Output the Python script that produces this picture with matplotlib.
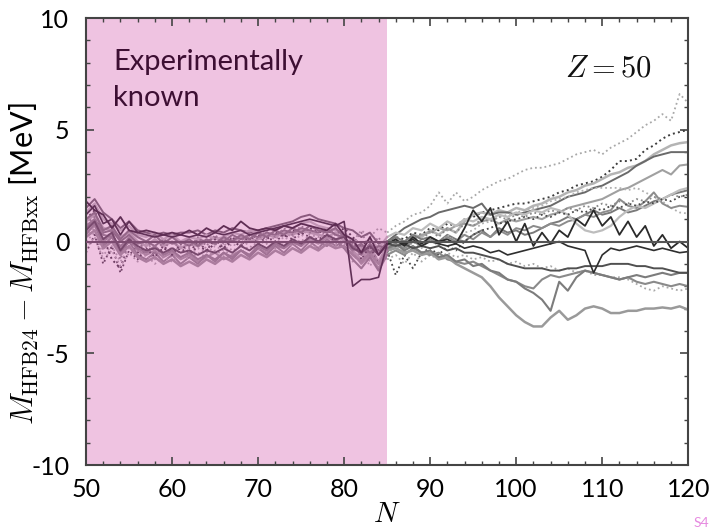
import numpy as np
import matplotlib
matplotlib.use("Agg")
import matplotlib.pyplot as plt
from matplotlib.ticker import MultipleLocator
from matplotlib.colors import to_rgb

plt.rcParams['font.family'] = ['Lato', 'DejaVu Sans']
plt.rcParams['mathtext.fontset'] = 'cm'

N = list(range(50, 121))
N_KNOWN_MAX = 85

# Each series: values for N = 50..120
sA = [1.2, 1.6, 0.8, 1.0, 0.3, 0.9, 0.4, 0.3, 0.2, 0.3,
      0.2, 0.3, 0.2, 0.3, 0.2, 0.4, 0.3, 0.4, 0.5, 0.3,
      0.4, 0.5, 0.6, 0.7, 0.8, 0.9, 1.0, 0.9, 0.8, 0.7,
      0.9, -2.0, -1.7, -1.7, -1.6, -0.1, 0.0, -0.1, 0.1, -0.2,
      0.0, -0.1, -0.2, -0.1, -0.3, -0.2, -0.3, -0.5, -0.4, -0.6,
      -0.5, -0.4, -0.3, -0.2, -0.1, 0.0, -0.2, -0.3, -0.4, -1.4,
      -0.6, -0.3, -0.4, -0.3, -0.2, -0.3, -0.4, -0.3, -0.4, -0.5,
      -0.45]
sB = [1.8, 1.4, 1.2, 0.6, 1.1, 0.5, 0.4, 0.5, 0.4, 0.3,
      0.4, 0.3, 0.5, 0.3, 0.6, 0.4, 0.7, 0.5, 0.9, 0.6,
      0.5, 0.6, 0.5, 0.7, 0.6, 0.8, 0.7, 0.6, 0.5, 0.8,
      0.3, 0.1, -0.5, 0.2, -0.6, -0.1, 0.1, -0.2, 0.2, -0.1,
      0.2, 0.0, 0.1, -0.1, 0.6, 1.4, 0.9, 1.5, 0.3, 0.9,
      0.0, 0.8, -0.2, 0.4, -0.1, 0.5, 0.2, 1.0, 0.7, 1.4,
      0.7, 1.1, 0.3, 0.9, 0.2, 0.7, -0.2, 0.3, -0.3, 0.0,
      -0.3]
sC = [1.5, 1.9, 1.3, 1.0, 0.6, 0.9, 0.5, 0.4, 0.3, 0.4,
      0.3, 0.4, 0.4, 0.5, 0.3, 0.5, 0.4, 0.6, 0.5, 0.4,
      0.5, 0.6, 0.7, 0.8, 0.9, 1.1, 1.2, 1.0, 0.9, 0.8,
      0.6, 0.5, 0.2, 0.4, -0.1, 0.0, 0.3, 0.6, 0.8, 1.0,
      1.1, 1.3, 1.4, 1.5, 1.6, 1.5, 1.7, 1.2, 1.3, 1.3,
      1.2, 1.3, 1.4, 1.5, 1.6, 1.8, 2.0, 2.1, 2.2, 2.4,
      2.5, 2.7, 2.9, 3.1, 3.4, 3.6, 3.8, 3.9, 4.0, 4.0,
      4.0]
sD = [0.9, 1.2, 0.6, 0.5, 0.2, 0.4, 0.0, -0.2, 0.1, -0.2,
      0.0, -0.3, -0.1, -0.2, 0.0, -0.1, 0.1, 0.0, 0.2, 0.0,
      0.1, 0.3, 0.2, 0.4, 0.3, 0.5, 0.4, 0.3, 0.2, 0.4,
      0.0, -0.4, -0.8, -0.3, -0.9, -0.2, 0.1, -0.1, 0.3, 0.2,
      0.5, 0.3, 0.6, 0.4, 0.9, 1.2, 1.3, 1.2, 1.4, 1.3,
      1.5, 1.4, 1.6, 1.7, 1.9, 2.0, 2.2, 2.3, 2.5, 2.6,
      2.8, 3.0, 3.1, 3.3, 3.4, 3.6, 3.9, 4.1, 4.3, 4.4,
      4.45]
sE = [0.2, 0.6, -0.4, 0.3, -0.6, 0.1, -0.3, -0.1, -0.4, -0.2,
      -0.5, -0.2, -0.4, -0.1, -0.3, 0.0, -0.2, 0.1, -0.1, 0.2,
      0.0, 0.3, 0.1, 0.4, 0.2, 0.5, 0.3, 0.2, 0.4, 0.1,
      0.3, 0.0, 0.5, 0.2, 0.6, 0.4, 0.7, 0.9, 1.2, 1.3,
      1.6, 2.2, 1.7, 2.2, 1.8, 2.0, 2.3, 2.5, 2.7, 2.8,
      3.0, 3.2, 3.3, 3.3, 3.4, 3.5, 3.7, 3.9, 4.0, 4.1,
      3.9, 4.2, 4.4, 4.6, 4.9, 5.2, 5.4, 5.7, 5.4, 6.6,
      6.2]
sF = [1.0, 1.4, 0.2, -0.8, -1.2, 0.0, -0.5, -0.2, -0.6, -0.3,
      -0.5, -0.3, -0.6, -0.2, -0.4, -0.1, -0.3, 0.0, -0.2, 0.1,
      0.3, 0.1, 0.4, 0.2, 0.5, 0.3, 0.6, 0.4, 0.5, 0.3,
      0.6, 0.2, -0.2, 0.1, -0.4, 0.0, 0.2, 0.1, 0.4, 0.3,
      0.6, 0.5, 0.8, 0.7, 1.0, 1.1, 1.3, 1.4, 1.5, 1.6,
      1.7, 1.7, 1.8, 1.9, 2.0, 2.2, 2.3, 2.5, 2.6, 2.7,
      2.9, 3.2, 3.6, 3.6, 3.7, 4.1, 4.3, 4.6, 4.8, 4.9,
      5.0]
sG = [0.4, 0.7, 0.0, 0.3, -0.3, 0.2, -0.4, -0.6, -0.4, -0.7,
      -0.5, -0.8, -0.6, -0.9, -0.7, -0.5, -0.8, -0.6, -0.4, -0.6,
      -0.3, -0.5, -0.2, -0.3, 0.0, -0.2, 0.1, -0.1, 0.2, 0.0,
      0.3, -0.5, -1.0, -0.6, -1.2, -0.4, -0.2, 0.0, 0.1, 0.3,
      0.4, 0.6, 0.5, 0.7, 0.8, 0.7, 0.9, 1.0, 0.8, 1.0,
      0.9, 1.0, 1.1, 1.0, 1.2, 1.3, 1.5, 1.6, 1.7, 1.8,
      1.9, 2.1, 2.3, 2.4, 2.6, 2.8, 3.0, 3.2, 3.0, 3.4,
      3.45]
sH = [0.6, 1.0, 0.4, 0.5, 0.0, 0.3, -0.1, 0.0, -0.2, 0.1,
      -0.1, 0.0, -0.2, 0.1, 0.0, 0.2, 0.0, 0.3, 0.1, 0.3,
      0.2, 0.4, 0.3, 0.5, 0.4, 0.6, 0.5, 0.4, 0.6, 0.3,
      0.2, -0.2, -0.6, -0.1, -0.5, 0.0, 0.2, 0.0, 0.3, 0.1,
      0.2, 0.0, 0.3, 0.1, 0.0, 0.3, 0.5, 0.2, 0.6, 0.4,
      0.5, 0.3, 0.4, 0.6, 0.8, 0.9, 1.1, 1.0, 1.2, 1.4,
      1.2, 1.3, 1.5, 1.3, 1.4, 1.6, 1.8, 1.9, 2.1, 2.2,
      2.3]
sI = [0.0, 0.4, -0.6, -0.2, -0.9, -0.3, -0.6, -0.4, -0.8, -0.5,
      -0.7, -0.4, -0.6, -0.3, -0.5, -0.2, -0.4, -0.1, -0.3, 0.0,
      -0.2, 0.1, -0.1, 0.2, 0.0, 0.3, 0.1, 0.0, 0.2, -0.1,
      0.1, -0.6, -0.3, -0.9, -0.4, -0.6, -0.2, -0.5, 0.0, -0.3,
      0.1, -0.2, 0.3, 0.0, 0.4, 0.5, 0.8, 0.9, 1.1, 1.2,
      1.3, 1.4, 1.5, 1.6, 1.8, 1.9, 2.0, 2.2, 2.3, 2.4,
      2.4, 2.4, 2.4, 2.3, 2.4, 2.2, 2.0, 1.8, 1.5, 1.3,
      1.25]
sJ = [0.8, 1.1, -0.2, 0.6, -0.8, 0.2, -0.4, 0.1, -0.5, 0.0,
      -0.4, 0.1, -0.3, 0.2, -0.2, 0.3, -0.1, 0.2, 0.0, 0.4,
      0.1, 0.5, 0.2, 0.6, 0.3, 0.7, 0.4, 0.5, 0.3, 0.6,
      0.2, -0.1, 0.4, -0.3, 0.2, -0.5, 0.0, -0.4, 0.3, 0.0,
      0.5, 0.2, 0.6, 0.4, 0.8, 0.7, 1.0, 0.9, 1.1, 1.0,
      1.2, 1.1, 1.3, 1.2, 1.4, 1.3, 1.5, 1.4, 1.6, 1.5,
      1.7, 1.6, 1.8, 1.7, 1.9, 1.8, 2.0, 1.9, 2.1, 2.0,
      2.1]
sK = [0.3, 0.8, -0.2, 0.2, -0.5, 0.0, -0.6, -0.8, -0.5, -0.9,
      -0.6, -1.0, -0.7, -1.0, -0.6, -0.9, -0.5, -0.8, -0.4, -0.7,
      -0.3, -0.6, -0.2, -0.5, -0.1, -0.4, 0.0, -0.3, 0.1, -0.2,
      0.0, -0.4, -0.2, -0.6, -0.3, -0.4, -0.1, -0.3, 0.0, -0.2,
      0.1, -0.1, 0.2, 0.0, 0.3, 0.1, 0.4, 0.2, 0.5, 0.3,
      0.6, 0.5, 0.7, 0.6, 0.8, 0.7, 0.9, 1.0, 1.2, 1.1,
      1.3, 1.4, 1.9, 1.6, 1.5, 1.8, 2.2, 1.7, 1.5, 1.6,
      1.55]
sL = [0.5, 0.9, 0.1, 0.4, -0.4, 0.1, -0.2, -0.4, -0.3, -0.5,
      -0.3, -0.5, -0.4, -0.6, -0.4, -0.5, -0.3, -0.5, -0.2, -0.4,
      -0.1, -0.3, 0.0, -0.2, 0.1, -0.1, 0.2, 0.0, 0.3, 0.1,
      0.2, -0.3, -0.5, -0.2, -0.6, -0.1, -0.2, -0.1, -0.3, -0.2,
      -0.3, -0.2, -0.4, -0.3, -0.5, -0.5, -0.6, -0.7, -0.8, -1.0,
      -1.1, -1.2, -1.2, -1.2, -1.3, -1.3, -1.2, -1.2, -1.1, -1.1,
      -1.1, -1.0, -1.0, -1.0, -1.1, -1.1, -1.2, -1.2, -1.3, -1.4,
      -1.4]
sM = [1.0, 1.3, 0.5, 0.7, 0.1, 0.5, 0.2, 0.0, 0.3, -0.1,
      0.2, -0.1, 0.1, -0.2, 0.1, -0.1, 0.2, 0.0, 0.3, 0.1,
      0.4, 0.2, 0.5, 0.3, 0.6, 0.4, 0.7, 0.5, 0.4, 0.6,
      0.2, -0.3, -0.1, -0.5, -0.2, -0.3, -0.1, -0.4, -0.2, -0.5,
      -0.4, -0.7, -0.6, -0.9, -0.8, -1.1, -1.0, -1.3, -1.4, -1.7,
      -1.8, -2.1, -2.3, -2.6, -3.1, -1.8, -2.2, -1.6, -1.3, -1.4,
      -1.5, -1.6, -1.7, -1.6, -1.5, -1.6, -1.5, -1.4, -1.5, -1.4,
      -1.4]
sN = [0.2, 0.5, -0.3, 0.0, -0.6, -0.2, -0.7, -0.9, -0.7, -1.0,
      -0.8, -1.1, -0.9, -1.1, -0.8, -1.0, -0.7, -0.9, -0.6, -0.8,
      -0.5, -0.7, -0.4, -0.6, -0.3, -0.5, -0.2, -0.4, -0.1, -0.3,
      -0.2, -0.6, -0.9, -0.5, -1.0, -0.4, -0.3, -0.5, -0.4, -0.6,
      -0.5, -0.8, -0.7, -1.0, -1.2, -1.4, -1.6, -2.0, -2.5, -2.9,
      -3.3, -3.6, -3.8, -3.8, -3.4, -3.1, -3.5, -3.3, -3.0, -2.9,
      -3.0, -3.2, -3.2, -3.1, -3.1, -3.0, -3.0, -2.95, -3.0, -2.9,
      -3.05]
sO = [-0.3, 0.2, -0.8, -0.4, -1.1, -0.5, -0.9, -0.6, -1.0, -0.7,
      -0.9, -0.6, -0.8, -0.5, -0.7, -0.4, -0.6, -0.3, -0.5, -0.2,
      -0.4, -0.1, -0.3, 0.0, -0.2, 0.1, -0.1, -0.3, 0.0, -0.2,
      -0.1, -0.9, -0.4, -1.1, -0.5, -0.8, -0.6, -1.0, -0.5, -0.9,
      -0.6, -0.8, -0.5, -0.7, -0.6, -0.8, -0.7, -0.9, -0.8, -1.0,
      -0.9, -1.1, -1.0, -1.2, -1.1, -1.3, -1.2, -1.4, -1.3, -1.5,
      -1.5, -1.6, -1.6, -1.7, -1.9, -2.1, -2.2, -2.0, -2.1, -2.2,
      -2.1]
sP = [0.7, 1.0, 0.3, 0.2, -0.2, 0.1, -0.3, -0.5, -0.2, -0.6,
      -0.4, -0.7, -0.5, -0.8, -0.6, -0.8, -0.5, -0.7, -0.4, -0.6,
      -0.2, -0.4, -0.1, -0.3, 0.0, -0.2, 0.2, 0.0, -0.2, 0.1,
      -0.3, -0.8, -1.2, -0.7, -1.3, -0.6, -0.4, -0.6, -0.3, -0.5,
      -0.6, -0.5, -0.8, -0.9, -1.0, -0.9, -1.1, -1.3, -1.5, -1.7,
      -1.8, -2.0, -2.1, -1.7, -1.5, -1.6, -1.5, -1.4, -1.3, -1.4,
      -1.5, -1.6, -1.7, -1.6, -1.8, -1.9, -1.8, -1.9, -2.0, -1.9,
      -2.0]
sQ = [-0.5, 0.3, -1.0, -0.2, -1.4, -0.4, -0.8, -0.3, -0.7, -0.2,
      -0.6, -0.1, -0.5, 0.0, -0.4, 0.1, -0.3, 0.2, -0.2, 0.3,
      -0.1, 0.2, 0.0, 0.3, 0.1, 0.4, 0.2, 0.1, 0.3, 0.0,
      -0.3, 0.1, -0.8, -0.2, -1.0, -0.4, -1.5, -0.6, -1.2, -0.5,
      -0.3, -0.6, -0.2, -0.4, 0.0, 0.3, 0.5, 0.6, 0.8, 0.9,
      1.0, 1.1, 1.0, 1.2, 1.1, 1.3, 1.2, 1.4, 1.3, 1.5,
      1.4, 1.6, 1.5, 1.7, 1.6, 1.8, 1.7, 1.9, 1.8, 2.0,
      2.1]
sR = [1.3, 1.7, 1.0, 0.8, 0.5, 0.7, 0.3, 0.2, 0.4, 0.1,
      0.3, 0.0, 0.2, 0.1, 0.3, 0.1, 0.2, 0.4, 0.3, 0.5,
      0.4, 0.6, 0.5, 0.7, 0.6, 0.8, 0.9, 0.7, 0.6, 0.5,
      0.4, 0.0, -0.4, 0.1, -0.3, 0.2, 0.4, 0.3, 0.6, 0.5,
      0.8, 0.6, 0.9, 0.7, 1.0, 0.9, 1.1, 1.0, 1.2, 1.1,
      1.3, 1.2, 1.4, 1.3, 1.5, 1.4, 1.2, 0.8, 0.5, 0.4,
      0.5, 0.7, 1.1, 1.4, 1.6, 1.5, 1.7, 1.9, 2.1, 2.3,
      2.4]

series = [sE, sF, sD, sC, sG, sH, sI, sJ, sK, sR, sQ, sO, sP, sN, sM, sL, sA, sB]
colors = ['#a8a8a8', '#3c3c3c', '#b4b4b4', '#6a6a6a', '#a0a0a0', '#7a7a7a',
          '#b0b0b0', '#8a8a8a', '#8c8c8c', '#bdbdbd', '#4a4a4a', '#a8a8a8',
          '#8a8a8a', '#9a9a9a', '#7c7c7c', '#505050', '#2e2e2e', '#2a2a2a']
styles = [':', ':', '-', '-', '-', '-', ':', ':', '-', '-', ':', ':',
          '-', '-', '-', '-', '-', '-']
widths = [1.3, 1.4, 1.8, 1.4, 1.5, 1.4, 1.3, 1.3, 1.4, 1.6, 1.3, 1.3,
          1.5, 1.8, 1.5, 1.4, 1.2, 1.3]

PINK = '#efc3e1'
pink_rgb = np.array(to_rgb(PINK))
DARK_PURPLE = np.array([0.26, 0.06, 0.22])

def tint(c):
    g = np.array(to_rgb(c))
    rgb = g * pink_rgb + (1 - g) * DARK_PURPLE
    return tuple(np.clip(rgb, 0, 1))

fig = plt.figure(figsize=(7.11, 5.30), dpi=100)
ax = fig.add_axes([0.121, 0.1226, 0.847, 0.8434])

ax.axvspan(50, N_KNOWN_MAX, color=PINK, zorder=0, lw=0)

Narr = np.array(N)
known = Narr <= N_KNOWN_MAX
unknown = Narr >= N_KNOWN_MAX
for s, c, ls, lw in zip(series, colors, styles, widths):
    v = np.array(s)
    ax.plot(Narr[unknown], v[unknown], color=c, ls=ls, lw=lw, zorder=2)
    ax.plot(Narr[known], v[known], color=tint(c), ls=ls, lw=lw, zorder=2)

ax.plot([N_KNOWN_MAX, 120], [0, 0], color='#555555', lw=1.5, zorder=3)
ax.plot([50, N_KNOWN_MAX], [0, 0], color=tint('#555555'), lw=1.5, zorder=3)

ax.set_xlim(50, 120)
ax.set_ylim(-10, 10)
ax.xaxis.set_major_locator(MultipleLocator(10))
ax.xaxis.set_minor_locator(MultipleLocator(2))
ax.yaxis.set_major_locator(MultipleLocator(5))
ax.yaxis.set_minor_locator(MultipleLocator(1))
ax.tick_params(which='both', direction='in', top=True, right=True, color='#444444')
ax.tick_params(which='major', length=6, width=1.2, labelsize=18)
ax.tick_params(axis='x', which='major', pad=9)
ax.tick_params(axis='y', which='major', pad=12)
ax.tick_params(which='minor', length=3, width=1.0)
for sp in ax.spines.values():
    sp.set_color('#444444')
    sp.set_linewidth(1.5)

ax.set_yticks([-10, -5, 0, 5, 10])
ax.set_yticklabels(['-10', '-5', '0', '5', '10'])

ax.set_xlabel(r'$N$', fontsize=21, labelpad=0)
ax.set_ylabel(r'$M_{\rm HFB24} - M_{\rm HFBxx}$ [MeV]', fontsize=22)
ax.yaxis.set_label_coords(-0.075, 0.45)

ax.text(0.045, 0.93, 'Experimentally\nknown', transform=ax.transAxes,
        fontsize=21, color='#3d0f33', va='top', ha='left', linespacing=1.45)
ax.text(0.94, 0.92, r'$Z = 50$', transform=ax.transAxes,
        fontsize=22, color='#111111', va='top', ha='right')

fig.text(0.997, 0.002, 'S4', color='#e68ae0', fontsize=10, ha='right', va='bottom')

fig.savefig('out.png', dpi=100)
